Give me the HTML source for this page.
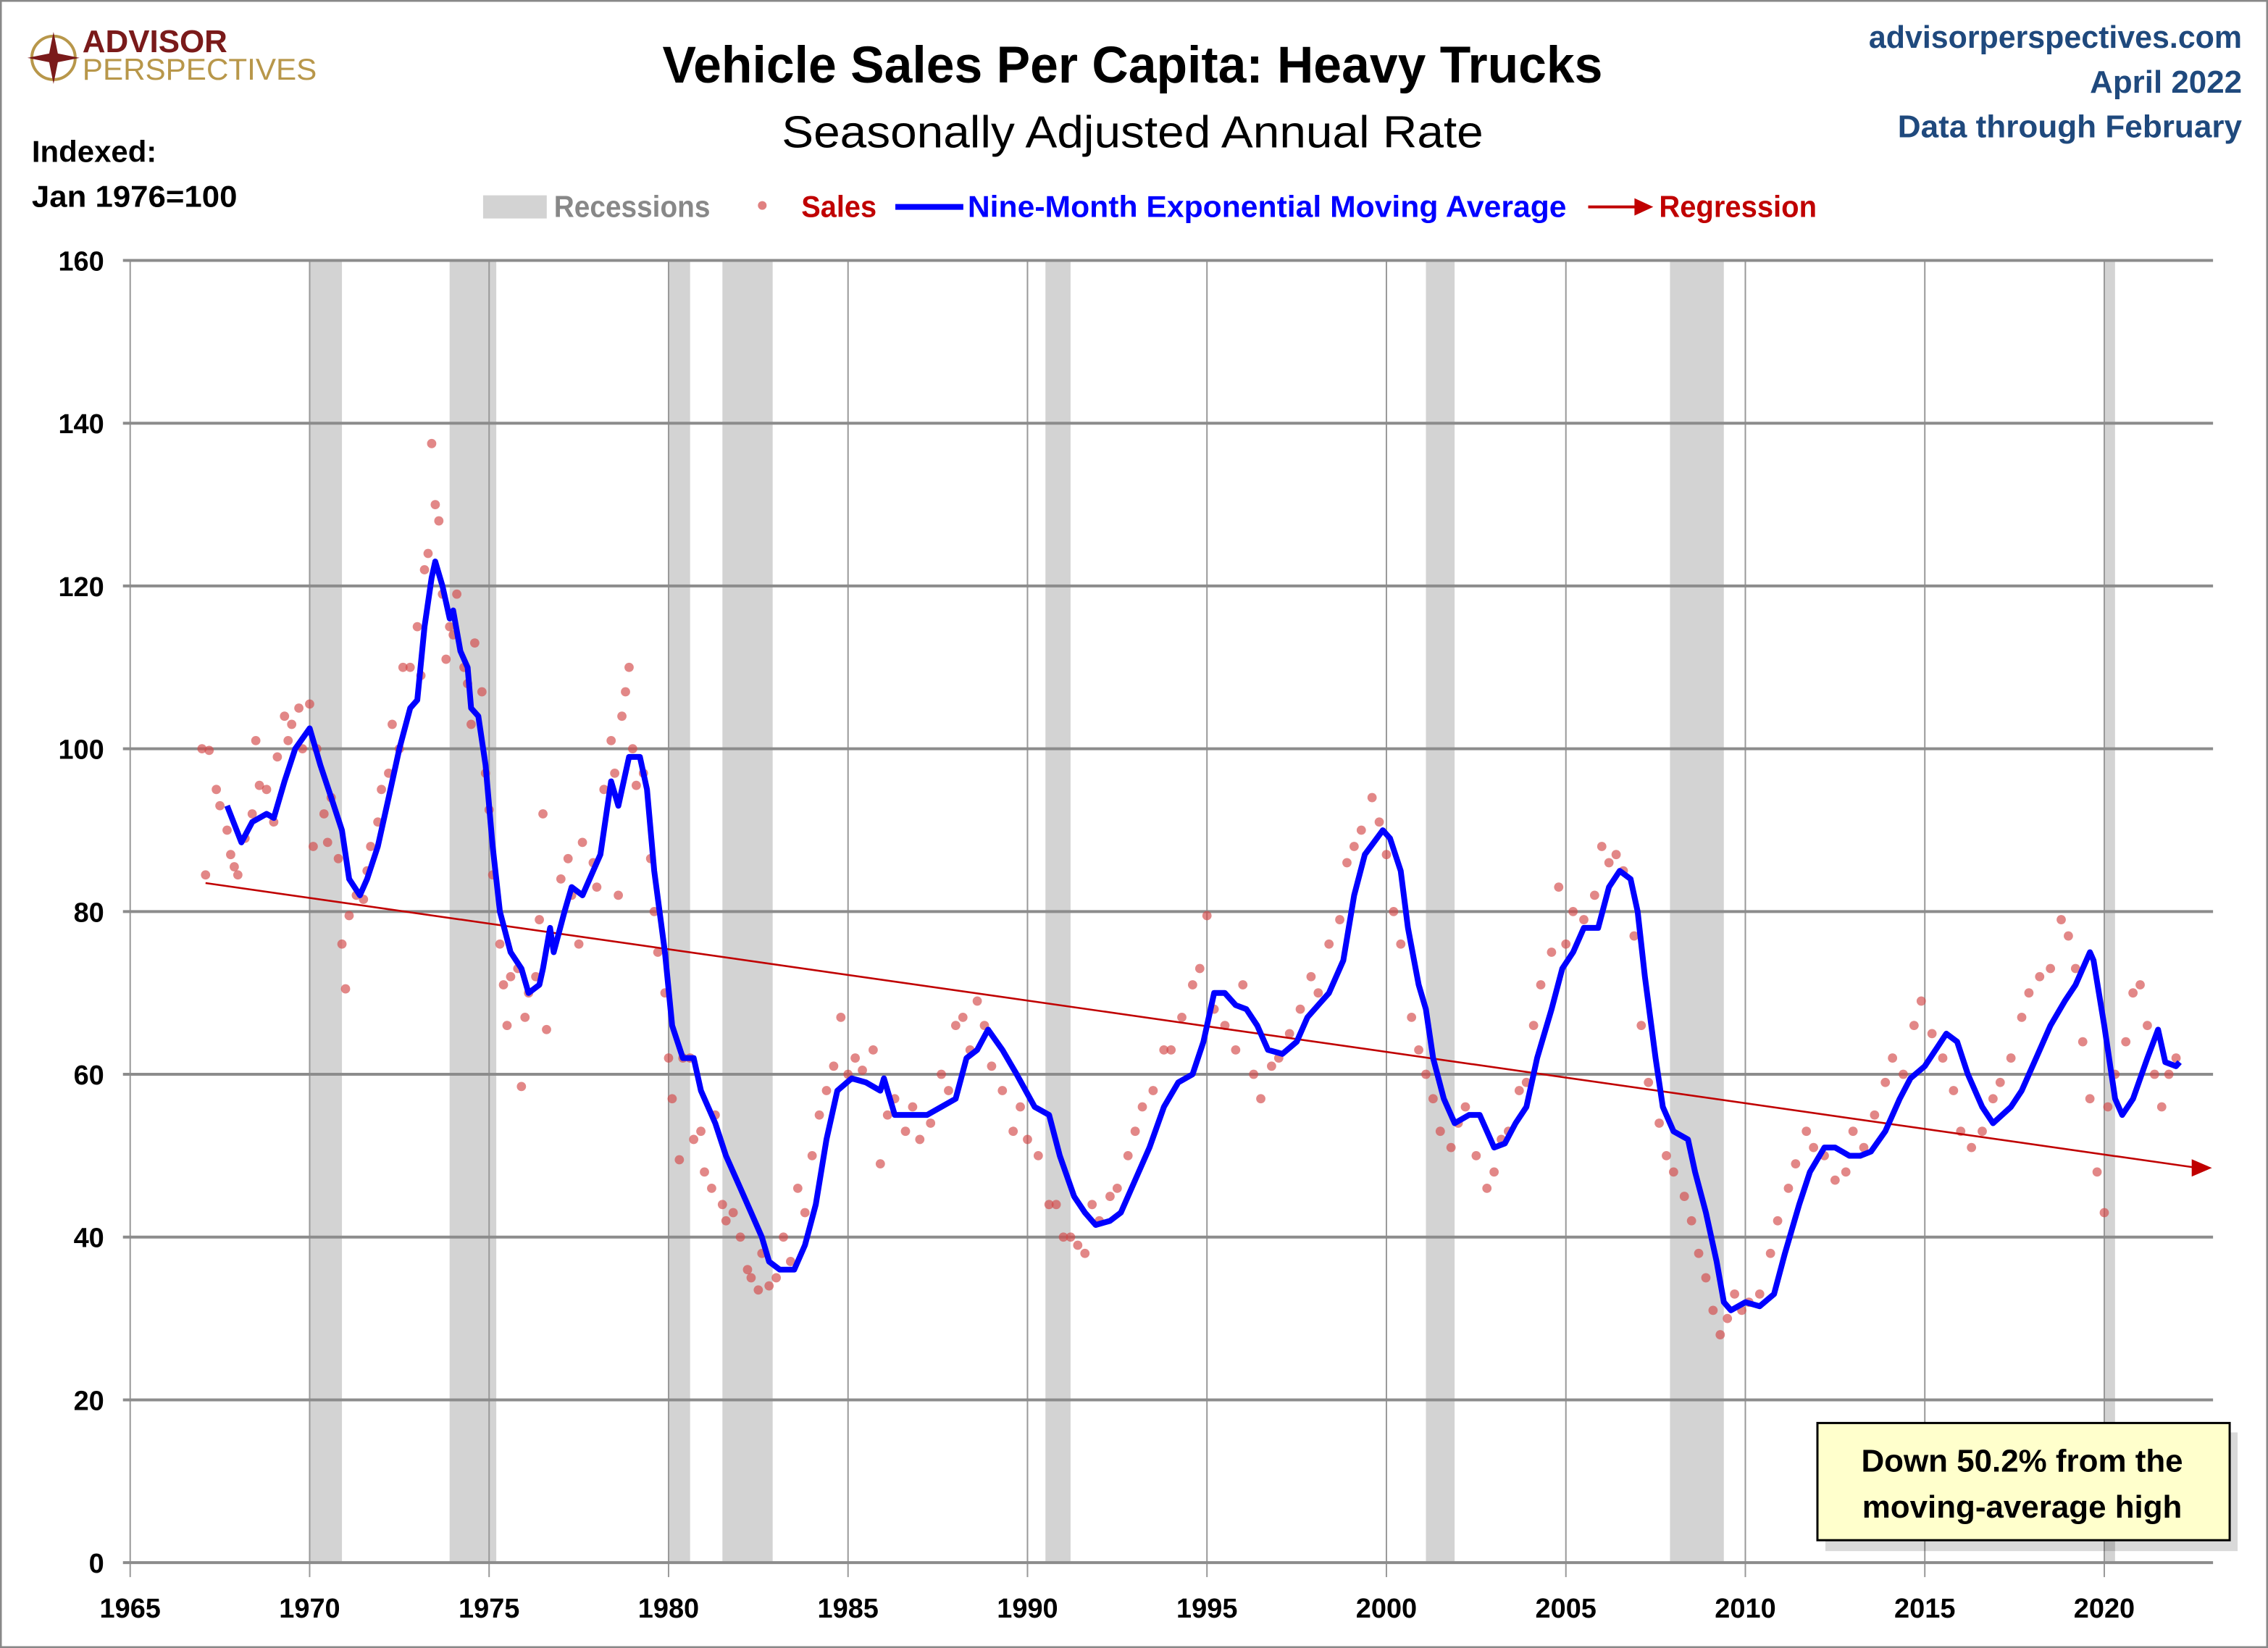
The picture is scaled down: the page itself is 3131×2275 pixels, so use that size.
<!DOCTYPE html>
<html><head><meta charset="utf-8"><style>
html,body{margin:0;padding:0;background:#fff}
svg{display:block}
text{font-family:"Liberation Sans Narrow","Liberation Sans",sans-serif}
</style></head><body>
<svg id="chart" width="3131" height="2275" viewBox="0 0 1568 1139" preserveAspectRatio="none" xmlns="http://www.w3.org/2000/svg">
<rect x="0.5" y="0.5" width="1567" height="1138" fill="#fff" stroke="#888" stroke-width="1.5"/>
<g>
<circle cx="37" cy="40" r="15" fill="none" stroke="#b8974a" stroke-width="2"/>
<polygon points="37,22 40,37 55,40 40,43 37,58 34,43 19,40 34,37" fill="#7a1a1a"/>
<text x="57" y="36" font-size="22" font-weight="bold" fill="#7a1a1a">ADVISOR</text>
<text x="57" y="55" font-size="21" fill="#b8974a" textLength="162" lengthAdjust="spacingAndGlyphs">PERSPECTIVES</text>
</g>
<text x="783" y="57" text-anchor="middle" font-size="36" font-weight="bold" textLength="650" lengthAdjust="spacingAndGlyphs">Vehicle Sales Per Capita: Heavy Trucks</text>
<text x="783" y="102" text-anchor="middle" font-size="31" textLength="485" lengthAdjust="spacingAndGlyphs">Seasonally Adjusted Annual Rate</text>
<g fill="#1f497d" font-weight="bold" font-size="22" text-anchor="end">
<text x="1550" y="33" textLength="258" lengthAdjust="spacingAndGlyphs">advisorperspectives.com</text>
<text x="1550" y="64">April 2022</text>
<text x="1550" y="95" textLength="238" lengthAdjust="spacingAndGlyphs">Data through February</text>
</g>
<g font-weight="bold" font-size="21">
<text x="22" y="112">Indexed:</text>
<text x="22" y="143" textLength="142" lengthAdjust="spacingAndGlyphs">Jan 1976=100</text>
</g>
<g font-size="21" font-weight="bold">
<rect x="334" y="135" width="44" height="16" fill="#d3d3d3"/>
<text x="383" y="150" fill="#888" textLength="108" lengthAdjust="spacingAndGlyphs">Recessions</text>
<circle cx="527" cy="142" r="3" fill="#e08080"/>
<text x="554" y="150" fill="#c00000" textLength="52" lengthAdjust="spacingAndGlyphs">Sales</text>
<line x1="619" y1="143" x2="666" y2="143" stroke="#0000ff" stroke-width="4"/>
<text x="669" y="150" fill="#0000ff" textLength="414" lengthAdjust="spacingAndGlyphs">Nine-Month Exponential Moving Average</text>
<line x1="1098" y1="143" x2="1132" y2="143" stroke="#c00000" stroke-width="2"/>
<polygon points="1130,137 1143,143 1130,149" fill="#c00000"/>
<text x="1147" y="150" fill="#c00000" textLength="109" lengthAdjust="spacingAndGlyphs">Regression</text>
</g>
<g id="recG"></g><g id="gridG"></g><g id="axisG"></g><g id="dotG"></g><g id="lineG"></g>
<g>
<rect x="1262" y="990" width="285" height="82" fill="#000" opacity="0.15"/>
<rect x="1256.5" y="983.5" width="285" height="81" fill="#ffffcc" stroke="#000" stroke-width="1.5"/>
<text x="1398" y="1017" text-anchor="middle" font-size="22" font-weight="bold">Down 50.2% from the</text>
<text x="1398" y="1049" text-anchor="middle" font-size="22" font-weight="bold">moving-average high</text>
</g>
</svg>
<script>
const xTicks=[1965,1970,1975,1980,1985,1990,1995,2000,2005,2010,2015,2020];
const yTicks=[0,20,40,60,80,100,120,140,160];
const recStart=[1970.0,1973.9,1980.0,1981.5,1990.5,2001.1,2007.9,2020.0];
const recEnd=[1970.9,1975.2,1980.6,1982.9,1991.2,2001.9,2009.4,2020.3];
const regYears=[1967.1,2023.0];
const regValues=[83.5,48.5];
const emaYears=[1967.7,1968.1,1968.4,1968.8,1969.0,1969.3,1969.6,1970.0,1970.3,1970.6,1970.9,1971.1,1971.4,1971.6,1971.9,1972.2,1972.5,1972.8,1973.0,1973.2,1973.4,1973.5,1973.7,1973.9,1974.0,1974.2,1974.4,1974.5,1974.7,1974.9,1975.1,1975.3,1975.6,1975.9,1976.1,1976.4,1976.5,1976.7,1976.8,1977.1,1977.3,1977.6,1977.9,1978.1,1978.4,1978.6,1978.9,1979.2,1979.4,1979.6,1979.9,1980.1,1980.4,1980.7,1980.9,1981.3,1981.6,1982.0,1982.3,1982.6,1982.8,1983.1,1983.5,1983.8,1984.1,1984.4,1984.7,1985.1,1985.5,1985.9,1986.0,1986.3,1986.7,1987.2,1987.6,1988.0,1988.3,1988.6,1988.9,1989.3,1989.7,1990.2,1990.6,1990.9,1991.3,1991.6,1991.9,1992.3,1992.6,1993.0,1993.4,1993.8,1994.2,1994.6,1994.9,1995.2,1995.5,1995.8,1996.1,1996.4,1996.7,1997.1,1997.5,1997.8,1998.2,1998.4,1998.8,1999.1,1999.4,1999.9,2000.1,2000.4,2000.6,2000.9,2001.1,2001.3,2001.6,2001.9,2002.3,2002.6,2003.0,2003.3,2003.6,2003.9,2004.2,2004.6,2004.9,2005.2,2005.5,2005.9,2006.2,2006.5,2006.8,2007.0,2007.2,2007.5,2007.7,2008.0,2008.4,2008.6,2008.9,2009.2,2009.4,2009.6,2010.0,2010.4,2010.8,2011.1,2011.5,2011.8,2012.2,2012.5,2012.9,2013.2,2013.5,2013.9,2014.3,2014.6,2015.0,2015.3,2015.6,2015.9,2016.2,2016.6,2016.9,2017.4,2017.7,2018.1,2018.5,2018.9,2019.2,2019.6,2019.7,2020.0,2020.3,2020.5,2020.8,2021.2,2021.5,2021.7,2022.0,2022.1];
const emaValues=[93,88.5,91,92,91.5,96,100,102.5,98,94,90,84,82,84,88,94,100,105,106,115,121,123,120,116,117,112,110,105,104,98,88,80,75,73,70,71,73,78,75,80,83,82,85,87,96,93,99,99,95,85,75,66,62,62,58,54,50,46,43,40,37,36,36,39,44,52,58,59.5,59,58,59.5,55,55,55,56,57,62,63,65.5,63,60,56,55,50,45,43,41.5,42,43,47,51,56,59,60,64,70,70,68.5,68,66,63,62.5,64,67,69,70,74,82,87,90,89,85,78,71,68,62,57,54,55,55,51,51.5,54,56,62,68,73,75,78,78,83,85,84,80,72,62,56,53,52,48,43,37,32,31,32,31.5,33,38,44,48,51,51,50,50,50.5,53,57,59.5,61,63,65,64,60,56,54,56,58,62,66,69,71,75,74,66,57,55,57,62,65.5,61.5,61,61.5];
const salesYears=[1967.0,1967.1,1967.2,1967.4,1967.5,1967.7,1967.8,1967.9,1968.0,1968.2,1968.4,1968.5,1968.6,1968.8,1969.0,1969.1,1969.3,1969.4,1969.5,1969.7,1969.8,1970.0,1970.1,1970.2,1970.4,1970.5,1970.6,1970.8,1970.9,1971.0,1971.1,1971.3,1971.5,1971.6,1971.7,1971.9,1972.0,1972.2,1972.3,1972.5,1972.6,1972.8,1973.0,1973.1,1973.2,1973.3,1973.4,1973.5,1973.6,1973.7,1973.8,1973.9,1974.0,1974.1,1974.3,1974.4,1974.5,1974.6,1974.8,1974.9,1975.0,1975.1,1975.3,1975.4,1975.5,1975.6,1975.8,1975.9,1976.0,1976.1,1976.3,1976.4,1976.5,1976.6,1976.8,1977.0,1977.2,1977.3,1977.5,1977.6,1977.9,1978.0,1978.2,1978.4,1978.5,1978.6,1978.7,1978.8,1978.9,1979.0,1979.1,1979.3,1979.5,1979.6,1979.7,1979.9,1980.0,1980.1,1980.3,1980.4,1980.6,1980.7,1980.9,1981.0,1981.2,1981.3,1981.5,1981.6,1981.8,1982.0,1982.2,1982.3,1982.5,1982.6,1982.8,1983.0,1983.2,1983.4,1983.6,1983.8,1984.0,1984.2,1984.4,1984.6,1984.8,1985.0,1985.2,1985.4,1985.7,1985.9,1986.1,1986.3,1986.6,1986.8,1987.0,1987.3,1987.6,1987.8,1988.0,1988.2,1988.4,1988.6,1988.8,1989.0,1989.3,1989.6,1989.8,1990.0,1990.3,1990.6,1990.8,1991.0,1991.2,1991.4,1991.6,1991.8,1992.0,1992.3,1992.5,1992.8,1993.0,1993.2,1993.5,1993.8,1994.0,1994.3,1994.6,1994.8,1995.0,1995.2,1995.5,1995.8,1996.0,1996.3,1996.5,1996.8,1997.0,1997.3,1997.6,1997.9,1998.1,1998.4,1998.7,1998.9,1999.1,1999.3,1999.6,1999.8,2000.0,2000.2,2000.4,2000.7,2000.9,2001.1,2001.3,2001.5,2001.8,2002.0,2002.2,2002.5,2002.8,2003.0,2003.2,2003.4,2003.7,2003.9,2004.1,2004.3,2004.6,2004.8,2005.0,2005.2,2005.5,2005.8,2006.0,2006.2,2006.4,2006.6,2006.9,2007.1,2007.3,2007.6,2007.8,2008.0,2008.3,2008.5,2008.7,2008.9,2009.1,2009.3,2009.5,2009.7,2009.9,2010.1,2010.4,2010.7,2010.9,2011.2,2011.4,2011.7,2011.9,2012.2,2012.5,2012.8,2013.0,2013.3,2013.6,2013.9,2014.1,2014.4,2014.7,2014.9,2015.2,2015.5,2015.8,2016.0,2016.3,2016.6,2016.9,2017.1,2017.4,2017.7,2017.9,2018.2,2018.5,2018.8,2019.0,2019.2,2019.4,2019.6,2019.8,2020.0,2020.1,2020.3,2020.6,2020.8,2021.0,2021.2,2021.4,2021.6,2021.8,2022.0];
const salesValues=[100,84.5,99.8,95,93,90,87,85.5,84.5,89,92,101,95.5,95,91,99,104,101,103,105,100,105.5,88,100,92,88.5,94,86.5,76,70.5,79.5,82,81.5,85,88,91,95,97,103,100,110,110,115,109,122,124,137.5,130,128,119,111,115,114,119,110,108,103,113,107,97,92.5,84.5,76,71,66,72,73,58.5,67,70,72,79,92,65.5,76,84,86.5,82,76,88.5,86,83,95,101,97,82,104,107,110,100,95.5,97,86.5,80,75,70,62,57,49.5,62,62,52,53,48,46,55,44,42,43,40,36,35,33.5,38,34,35,40,37,46,43,50,55,58,61,67,60,62,60.5,63,49,55,57,53,56,52,54,60,58,66,67,63,69,66,61,58,53,56,52,50,44,44,40,40,39,38,44,42,45,46,50,53,56,58,63,63,67,71,73,79.5,68,66,63,71,60,57,61,62,65,68,72,70,76,79,86,88,90,94,91,87,80,76,67,63,60,57,53,51,54,56,50,46,48,52,53,58,59,66,71,75,83,76,80,79,82,88,86,87,85,77,66,59,54,50,48,45,42,38,35,31,28,30,33,31,32,33,38,42,46,49,53,51,50,47,48,53,51,55,59,62,60,66,69,65,62,58,53,51,53,57,59,62,67,70,72,73,79,77,73,64,57,48,43,56,60,64,70,71,66,60,56,60,62];

const NS='http://www.w3.org/2000/svg';
const X0=90,X1=1530,Y0=1080,Y1=180,YR0=1965,YR1=2023.03,V0=0,V1=160;
function xs(y){return X0+(y-YR0)/(YR1-YR0)*(X1-X0);}
function ys(v){return Y0-(v-V0)/(V1-V0)*(Y0-Y1);}
function mk(tag,attrs,parent){const e=document.createElementNS(NS,tag);for(const k in attrs)e.setAttribute(k,attrs[k]);parent.appendChild(e);return e;}
const recG=document.getElementById('recG'),gridG=document.getElementById('gridG'),axisG=document.getElementById('axisG'),dotG=document.getElementById('dotG'),lineG=document.getElementById('lineG');

for(let i=0;i<recStart.length;i++){
  const r=mk('rect',{x:xs(recStart[i]),y:Y1,width:xs(recEnd[i])-xs(recStart[i]),height:Y0-Y1,fill:'#d3d3d3'},recG);
  
  
}
xTicks.forEach(t=>{
  const l=mk('line',{x1:xs(t),x2:xs(t),y1:Y1,y2:Y0+10,stroke:'#999','stroke-width':1},gridG);
  
  
  const tx=mk('text',{x:xs(t),y:1118,'text-anchor':'middle','font-size':19,'font-weight':'bold'},axisG);
  tx.textContent=t;
  
  
});
yTicks.forEach(t=>{
  const l=mk('line',{x1:85,x2:X1,y1:ys(t),y2:ys(t),stroke:'#8c8c8c','stroke-width':2},gridG);
  
  
  const tx=mk('text',{x:72,y:ys(t)+7,'text-anchor':'end','font-size':19,'font-weight':'bold'},axisG);
  tx.textContent=t;
  
  
});
for(let i=0;i<salesYears.length;i++){
  const c=mk('circle',{cx:xs(salesYears[i]),cy:ys(salesValues[i]),r:3.2,fill:'#d24646','fill-opacity':0.65},dotG);
  
  
}
const rl=mk('line',{x1:xs(regYears[0]),y1:ys(regValues[0]),x2:xs(regYears[1])-12,y2:ys(regValues[1])-0.3,stroke:'#c00000','stroke-width':1.3},lineG);


const ax=xs(regYears[1]),ay=ys(regValues[1]);
const ah=mk('polygon',{points:`${ax},${ay} ${ax-14},${ay-6} ${ax-14},${ay+6}`,fill:'#c00000'},lineG);


let d='';
for(let i=0;i<emaYears.length;i++){d+=(i?'L':'M')+xs(emaYears[i]).toFixed(1)+','+ys(emaValues[i]).toFixed(1);}
const p=mk('path',{d:d,fill:'none',stroke:'#0000ff','stroke-width':4,'stroke-linejoin':'round'},lineG);


</script>
</body></html>
